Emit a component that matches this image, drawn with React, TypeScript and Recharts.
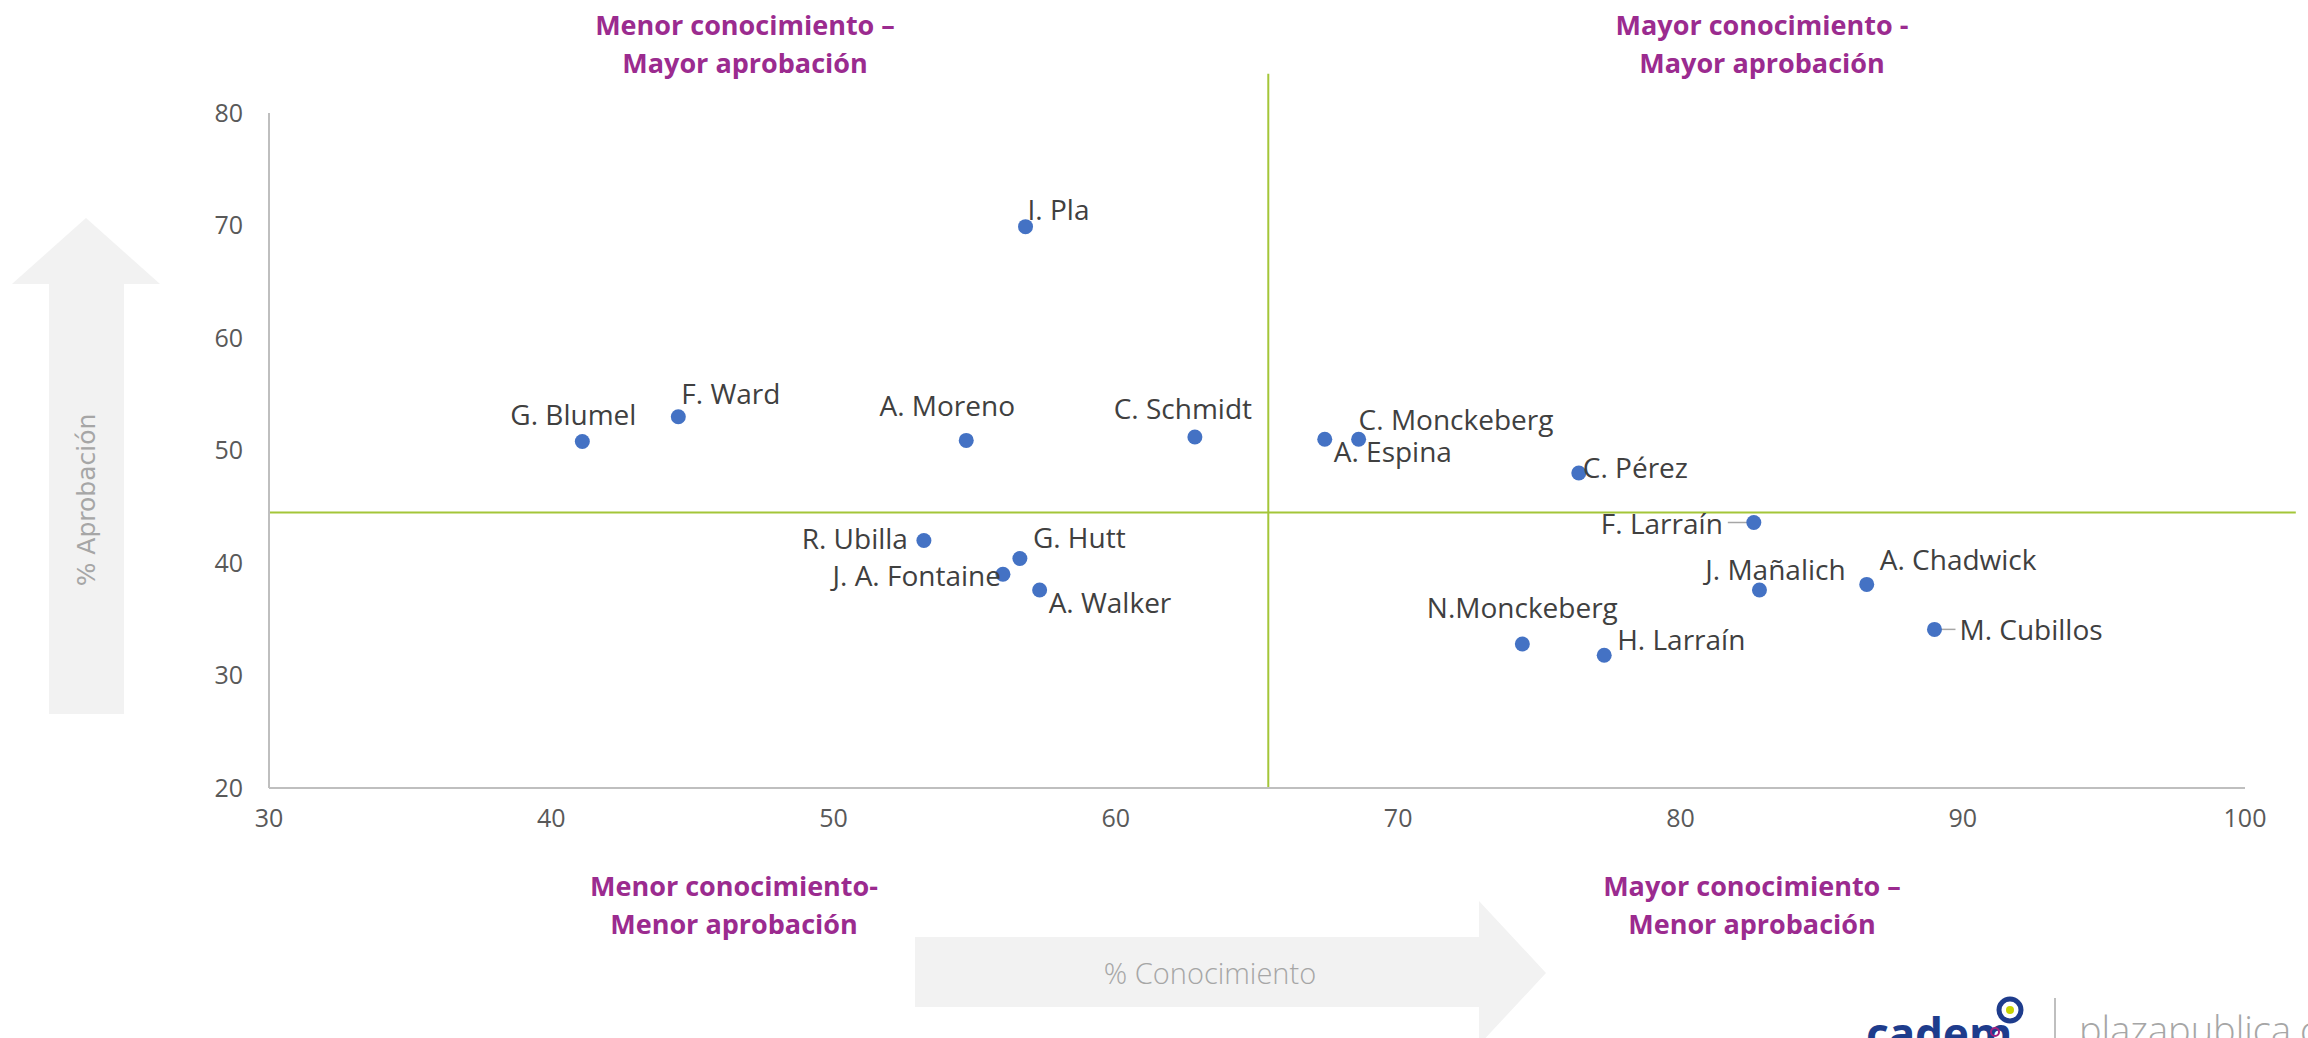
import { ScatterChart, Scatter, XAxis, YAxis, ReferenceLine } from 'recharts';

const W = 2308;
const H = 1038;

// personajes evaluados
const names = [
  'I. Pla', 'G. Blumel', 'F. Ward', 'A. Moreno', 'C. Schmidt', 'A. Espina', 'C. Monckeberg',
  'C. Pérez', 'F. Larraín', 'A. Chadwick', 'J. Mañalich', 'M. Cubillos', 'N.Monckeberg',
  'H. Larraín', 'R. Ubilla', 'G. Hutt', 'J. A. Fontaine', 'A. Walker',
];
// % conocimiento (eje X)
const conocimiento = [56.8, 41.1, 44.5, 54.7, 62.8, 67.4, 68.6, 76.4, 82.6, 86.6, 82.8, 89.0, 74.4, 77.3, 53.2, 56.6, 56.0, 57.3];
// % aprobación (eje Y)
const aprobacion = [69.9, 50.8, 53.0, 50.9, 51.2, 51.0, 51.0, 48.0, 43.6, 38.1, 37.6, 34.1, 32.8, 31.8, 42.0, 40.4, 39.0, 37.6];

const xTicks = [30, 40, 50, 60, 70, 80, 90, 100];
const yTicks = [20, 30, 40, 50, 60, 70, 80];

// promedios que separan los cuadrantes
const avgConocimiento = 65.4;
const avgAprobacion = 44.5;

const data = names.map((name, i) => ({ name, x: conocimiento[i], y: aprobacion[i] }));

type Placement = { dx: number; dy: number; anchor: 'start' | 'middle' | 'end'; leader?: [number, number] };

const labelPlacement: Record<string, Placement> = {
  'I. Pla': { dx: 2, dy: -18, anchor: 'start' },
  'G. Blumel': { dx: -9, dy: -28, anchor: 'middle' },
  'F. Ward': { dx: 3, dy: -24, anchor: 'start' },
  'A. Moreno': { dx: -19, dy: -35, anchor: 'middle' },
  'C. Schmidt': { dx: -12, dy: -29, anchor: 'middle' },
  'A. Espina': { dx: 9, dy: 12, anchor: 'start' },
  'C. Monckeberg': { dx: 0, dy: -20, anchor: 'start' },
  'C. Pérez': { dx: 4, dy: -6, anchor: 'start' },
  'F. Larraín': { dx: -31, dy: 0, anchor: 'end', leader: [-26, -5] },
  'A. Chadwick': { dx: 13, dy: -25, anchor: 'start' },
  'J. Mañalich': { dx: 16, dy: -21, anchor: 'middle' },
  'M. Cubillos': { dx: 25, dy: 0, anchor: 'start', leader: [5, 21] },
  'N.Monckeberg': { dx: 0, dy: -37, anchor: 'middle' },
  'H. Larraín': { dx: 13, dy: -16, anchor: 'start' },
  'R. Ubilla': { dx: -16, dy: -3, anchor: 'end' },
  'G. Hutt': { dx: 13, dy: -22, anchor: 'start' },
  'J. A. Fontaine': { dx: -2, dy: 1, anchor: 'end' },
  'A. Walker': { dx: 9, dy: 12, anchor: 'start' },
};

const FONT = '"Open Sans", sans-serif';
const PURPLE = '#9B2B8F';

const renderPoint = (props: any) => {
  const { cx, cy, payload } = props;
  const p = labelPlacement[payload.name] || { dx: 10, dy: 0, anchor: 'start' };
  return (
    <g>
      {p.leader && (
        <line x1={cx + p.leader[0]} x2={cx + p.leader[1]} y1={cy} y2={cy} stroke="#A6A6A6" strokeWidth={1.5} />
      )}
      <circle cx={cx} cy={cy} r={7.5} fill="#4472C4" />
      <text
        x={cx + p.dx}
        y={cy + p.dy}
        textAnchor={p.anchor}
        dominantBaseline="central"
        fill="#404040"
        style={{ fontFamily: FONT, fontSize: 28 }}
      >
        {payload.name}
      </text>
    </g>
  );
};

const QuadTitle = ({ x, y, lines }: { x: number; y: number; lines: string[] }) => (
  <text textAnchor="middle" fill={PURPLE} style={{ fontFamily: FONT, fontSize: 27, fontWeight: 700 }}>
    {lines.map((l, i) => (
      <tspan key={i} x={x} y={y + i * 38} dominantBaseline="central">
        {l}
      </tspan>
    ))}
  </text>
);

const Decorations = () => (
  <svg width={W} height={H} style={{ position: 'absolute', left: 0, top: 0 }}>
    {/* flecha vertical */}
    <polygon points="86,218 160,284 124,284 124,714 49,714 49,284 12,284" fill="#F2F2F2" />
    <text
      transform="translate(86,500) rotate(-90)"
      textAnchor="middle"
      dominantBaseline="central"
      fill="#A6A6A6"
      style={{ fontFamily: '"DejaVu Sans", sans-serif', fontSize: 25 }}
    >
      % Aprobación
    </text>
    {/* flecha horizontal */}
    <polygon points="915,937 1479,937 1479,901 1546,973 1479,1045 1479,1007 915,1007" fill="#F2F2F2" />
    <text x={1210} y={972} textAnchor="middle" dominantBaseline="central" fill="#A6A6A6"
      style={{ fontFamily: FONT, fontSize: 29, fontWeight: 300 }}>
      % Conocimiento
    </text>

    <QuadTitle x={745} y={24} lines={['Menor conocimiento –', 'Mayor aprobación']} />
    <QuadTitle x={1762} y={24} lines={['Mayor conocimiento -', 'Mayor aprobación']} />
    <QuadTitle x={734} y={885} lines={['Menor conocimiento-', 'Menor aprobación']} />
    <QuadTitle x={1752} y={885} lines={['Mayor conocimiento –', 'Menor aprobación']} />

    {/* logos */}
    <text x={1866} y={1050} fill="#1E3C8C" style={{ fontFamily: '"Noto Sans", sans-serif', fontSize: 44, fontWeight: 700 }}>
      cadem
    </text>
    <circle cx={2010} cy={1010} r={11} fill="none" stroke="#1E3C8C" strokeWidth={5} />
    <circle cx={2010} cy={1010} r={4} fill="#C8D400" />
    <circle cx={1995} cy={1032} r={4} fill="none" stroke="#A0207F" strokeWidth={2} />
    <line x1={2055} x2={2055} y1={998} y2={1038} stroke="#BFBFBF" strokeWidth={2} />
    <text x={2079} y={1044} fill="#A6A6A6" style={{ fontFamily: FONT, fontSize: 38, fontWeight: 300 }}>
      plazapublica.cl
    </text>
  </svg>
);

export default function App() {
  return (
    <div style={{ position: 'absolute', left: 0, top: 0, width: W, height: H, overflow: 'hidden', background: '#fff' }}>
      <Decorations />
      <div style={{ position: 'absolute', left: 0, top: 0 }}>
        <ScatterChart width={W} height={H} margin={{ top: 113, right: 63, bottom: 0, left: 0 }}>
          <XAxis
            type="number"
            dataKey="x"
            domain={[30, 100]}
            ticks={xTicks}
            interval={0}
            axisLine={{ stroke: '#BFBFBF', strokeWidth: 2 }}
            tickLine={false}
            tickSize={0}
            tickMargin={21}
            tick={{ fill: '#595959', fontSize: 25, fontFamily: FONT }}
            height={250}
          />
          <YAxis
            type="number"
            dataKey="y"
            domain={[20, 80]}
            ticks={yTicks}
            interval={0}
            width={269}
            axisLine={{ stroke: '#BFBFBF', strokeWidth: 2 }}
            tickLine={false}
            tickSize={0}
            tickMargin={26}
            tick={{ fill: '#595959', fontSize: 25, fontFamily: FONT }}
          />
          <ReferenceLine
            segment={[{ x: avgConocimiento, y: 83.5 }, { x: avgConocimiento, y: 20 }]}
            stroke="#A4C639"
            strokeWidth={2}
            ifOverflow="visible"
          />
          <ReferenceLine
            segment={[{ x: 30, y: avgAprobacion }, { x: 101.8, y: avgAprobacion }]}
            stroke="#A4C639"
            strokeWidth={2}
            ifOverflow="visible"
          />
          <Scatter data={data} shape={renderPoint} isAnimationActive={false} />
        </ScatterChart>
      </div>
    </div>
  );
}
